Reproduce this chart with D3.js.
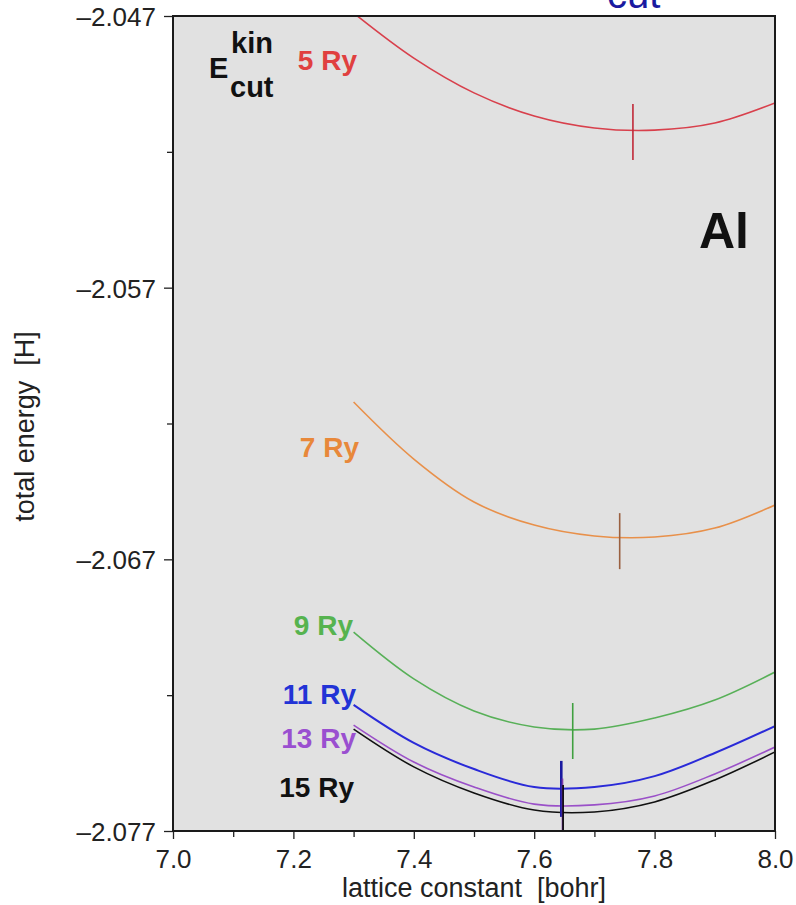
<!DOCTYPE html>
<html>
<head>
<meta charset="utf-8">
<script src="https://cdn.jsdelivr.net/npm/d3@7"></script>
<style>
  html, body { margin: 0; padding: 0; background: #ffffff; }
  svg { display: block; font-family: "Liberation Sans", Arial, Helvetica, sans-serif; }
</style>
</head>
<body>
<svg id="chart" width="796" height="905"></svg>
<script>
// Lattice constants [bohr] at which the total energy was computed
const lattice = [7.3, 7.4, 7.5, 7.6, 7.7, 7.8, 7.9, 8.0];

// Total energy [H] for each kinetic-energy cutoff
const energy5  = [-2.04689, -2.04855, -2.04983, -2.05068, -2.05112, -2.05120, -2.05094, -2.05020];
const energy7  = [-2.06121, -2.06331, -2.06489, -2.06574, -2.06614, -2.06618, -2.06585, -2.06500];
const energy9  = [-2.06968, -2.07140, -2.07258, -2.07317, -2.07325, -2.07284, -2.07218, -2.07115];
const energy11 = [-2.07236, -2.07376, -2.07472, -2.07538, -2.07538, -2.07498, -2.07413, -2.07314];
const energy13 = [-2.07310, -2.07446, -2.07538, -2.07601, -2.07604, -2.07571, -2.07490, -2.07391];
const energy15 = [-2.07325, -2.07464, -2.07560, -2.07623, -2.07630, -2.07593, -2.07512, -2.07409];

const cutoffLabels = ["5 Ry", "7 Ry", "9 Ry", "11 Ry", "13 Ry", "15 Ry"];

// Equilibrium lattice constant and minimum energy of each cutoff
const eqLattice = [7.764, 7.742, 7.664, 7.645, 7.647, 7.648];
const eqEnergy  = [-2.05127, -2.06633, -2.07332, -2.07545, -2.07610, -2.07634];

// Axis ticks
const xMajorTicks = [7.0, 7.2, 7.4, 7.6, 7.8, 8.0];
const xMajorLabels = ["7.0", "7.2", "7.4", "7.6", "7.8", "8.0"];
const xMinorTicks = [7.1, 7.3, 7.5, 7.7, 7.9];
const yMajorTicks = [-2.047, -2.057, -2.067, -2.077];
const yMajorLabels = ["\u20132.047", "\u20132.057", "\u20132.067", "\u20132.077"];
const yMinorTicks = [-2.052, -2.062, -2.072];

// ---- layout & style ----
const plot = { left: 173, right: 775, top: 16, bottom: 831 };
const lineColors   = ["#d8404c", "#e8904a", "#58b058", "#2a2ad8", "#9a50c8", "#111111"];
const labelColors  = ["#e0403f", "#e8883a", "#56b34f", "#2233d6", "#9a4fd0", "#111111"];
const markerColors = ["#c02838", "#9a6040", "#40a040", "#1a1aa0", "#7a3aa8", "#000000"];
const labelPos = [[357, 70], [359, 457], [353, 635], [356, 704], [356, 748], [354, 797]];

const series = [energy5, energy7, energy9, energy11, energy13, energy15];

const svg = d3.select("#chart");

const x = d3.scaleLinear().domain([7.0, 8.0]).range([plot.left, plot.right]);
const y = d3.scaleLinear().domain([-2.077, -2.047]).range([plot.bottom, plot.top]);

// Partly cut-off heading text above the panel
svg.append("text")
  .attr("x", 607).attr("y", 8)
  .attr("fill", "#1a1aa0")
  .attr("font-size", 40)
  .text("cut");

// Plot background
svg.append("rect")
  .attr("x", plot.left).attr("y", plot.top)
  .attr("width", plot.right - plot.left).attr("height", plot.bottom - plot.top)
  .attr("fill", "#e1e1e1");

svg.append("clipPath").attr("id", "plotClip")
  .append("rect")
  .attr("x", plot.left).attr("y", plot.top)
  .attr("width", plot.right - plot.left).attr("height", plot.bottom - plot.top);

// Axes
const tickFont = 26;
const xAxis = svg.append("g")
  .attr("transform", `translate(0,${plot.bottom})`)
  .call(d3.axisBottom(x).tickValues(xMajorTicks)
    .tickFormat((d, i) => xMajorLabels[i]).tickSize(8).tickPadding(6));
svg.append("g")
  .attr("transform", `translate(0,${plot.bottom})`)
  .call(d3.axisBottom(x).tickValues(xMinorTicks).tickFormat("").tickSize(6));

const yAxis = svg.append("g")
  .attr("transform", `translate(${plot.left},0)`)
  .call(d3.axisLeft(y).tickValues(yMajorTicks)
    .tickFormat((d, i) => yMajorLabels[i]).tickSize(9).tickPadding(8));
svg.append("g")
  .attr("transform", `translate(${plot.left},0)`)
  .call(d3.axisLeft(y).tickValues(yMinorTicks).tickFormat("").tickSize(6));

svg.selectAll(".domain").remove();
svg.selectAll(".tick line").attr("stroke", "#222").attr("stroke-width", 1.3);
svg.selectAll(".tick text")
  .attr("font-family", "'Liberation Sans', Arial, sans-serif")
  .attr("font-size", tickFont).attr("fill", "#222");
xAxis.selectAll(".tick text").attr("dy", "0.9em");
yAxis.selectAll(".tick text").attr("dy", "0.36em");

// Curves (smooth through the computed points)
const line = d3.line()
  .x((d, i) => x(lattice[i]))
  .y(d => y(d))
  .curve(d3.curveCatmullRom.alpha(0.5));
const curves = svg.append("g").attr("clip-path", "url(#plotClip)");
series.forEach((vals, k) => {
  curves.append("path")
    .attr("d", line(vals))
    .attr("fill", "none")
    .attr("stroke", lineColors[k])
    .attr("stroke-width", k === 3 ? 2 : 1.6)
    .attr("stroke-linejoin", "round");
});

// Equilibrium markers
eqLattice.forEach((a, k) => {
  curves.append("line")
    .attr("x1", x(a)).attr("x2", x(a))
    .attr("y1", y(eqEnergy[k]) - 28).attr("y2", y(eqEnergy[k]) + 28)
    .attr("stroke", markerColors[k])
    .attr("stroke-width", k === 3 ? 2.6 : 1.6);
});

// Frame
svg.append("rect")
  .attr("x", plot.left).attr("y", plot.top)
  .attr("width", plot.right - plot.left).attr("height", plot.bottom - plot.top)
  .attr("fill", "none").attr("stroke", "#1a1a1a").attr("stroke-width", 2);

// Cutoff labels
cutoffLabels.forEach((t, k) => {
  svg.append("text")
    .attr("x", labelPos[k][0]).attr("y", labelPos[k][1])
    .attr("text-anchor", "end")
    .attr("font-size", 28).attr("font-weight", "bold")
    .attr("fill", labelColors[k])
    .text(t);
});

// E_cut^kin legend title
svg.append("text").attr("x", 209).attr("y", 78)
  .attr("font-size", 29).attr("font-weight", "bold").attr("fill", "#111").text("E");
svg.append("text").attr("x", 231).attr("y", 53)
  .attr("font-size", 29).attr("font-weight", "bold").attr("fill", "#111").text("kin");
svg.append("text").attr("x", 230).attr("y", 97)
  .attr("font-size", 29).attr("font-weight", "bold").attr("fill", "#111").text("cut");

// Element label
svg.append("text").attr("x", 699).attr("y", 248)
  .attr("font-size", 50).attr("font-weight", "bold").attr("fill", "#111").text("Al");

// Axis titles
svg.append("text")
  .attr("x", (plot.left + plot.right) / 2).attr("y", 897)
  .attr("text-anchor", "middle").attr("font-size", 27).attr("fill", "#222")
  .attr("xml:space", "preserve")
  .text("lattice constant  [bohr]");
svg.append("text")
  .attr("transform", `translate(34,${(plot.top + plot.bottom) / 2 + 3}) rotate(-90)`)
  .attr("text-anchor", "middle").attr("font-size", 27).attr("fill", "#222")
  .attr("xml:space", "preserve")
  .text("total energy  [H]");
</script>
</body>
</html>
